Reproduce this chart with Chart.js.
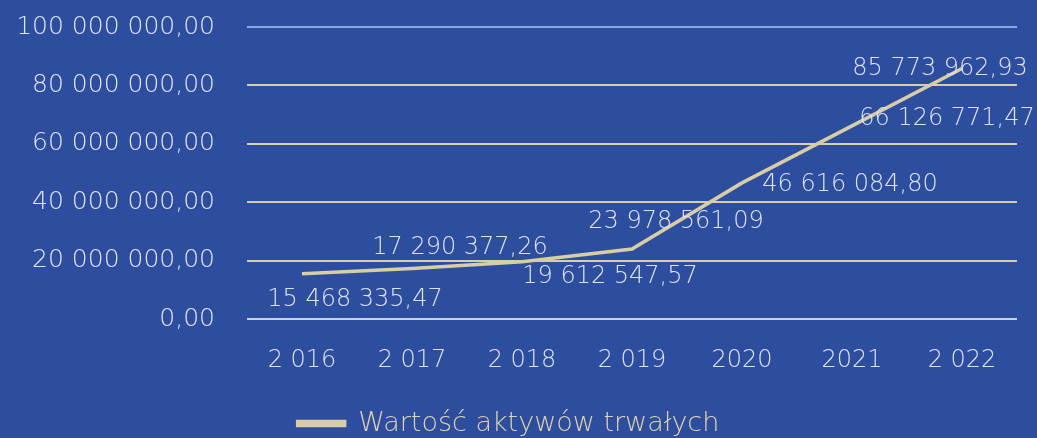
<!DOCTYPE html>
<html lang="pl">
<head>
<meta charset="UTF-8">
<title>Wartość aktywów trwałych</title>
<script src="https://cdn.jsdelivr.net/npm/chart.js"></script>
<style>
  html, body { margin: 0; padding: 0; background: #2d4e9f; }
  .container { width: 1037px; height: 438px; position: relative; }
</style>
</head>
<body>
<div class="container">
  <canvas id="aktywaChart"></canvas>
</div>
<script>
  const lata = ['2 016', '2 017', '2 018', '2 019', '2020', '2021', '2 022'];
  const wartosci = [15468335.47, 17290377.26, 19612547.57, 23978561.09, 46616084.80, 66126771.47, 85773962.93];
  const etykietaSerii = 'Wartość aktywów trwałych';
  const osY = { min: 0, max: 100000000, krok: 20000000 };

  function formatPL(v) {
    const [c, d] = v.toFixed(2).split('.');
    return c.replace(/\B(?=(\d{3})+(?!\d))/g, ' ') + ',' + d;
  }

  // etykiety wartości - przesunięte jak w oryginale
  const etykietyPlugin = {
    id: 'etykiety',
    afterDatasetsDraw(chart, args, opts) {
      const ctx = chart.ctx;
      const meta = chart.getDatasetMeta(0);
      ctx.save();
      ctx.font = opts.font;
      ctx.fillStyle = opts.color;
      ctx.textAlign = 'center';
      ctx.textBaseline = 'middle';
      meta.data.forEach((pt, i) => {
        const [dx, dy] = opts.offsets[i] || [0, 0];
        ctx.fillText(formatPL(wartosci[i]), pt.x + dx, pt.y + dy);
      });
      ctx.restore();
    }
  };

  const ctx = document.getElementById('aktywaChart').getContext('2d');
  new Chart(ctx, {
    type: 'line',
    data: {
      labels: lata,
      datasets: [{
        label: etykietaSerii,
        data: wartosci,
        borderColor: '#d9cda6',
        backgroundColor: '#dcc897',
        borderWidth: 3.5,
        pointRadius: 0,
        tension: 0
      }]
    },
    options: {
      responsive: true,
      maintainAspectRatio: false,
      animation: false,
      layout: { padding: { top: 27, right: 20, left: 0, bottom: -9 } },
      scales: {
        x: {
          offset: true,
          afterFit(scale) { scale.height = 89; },
          grid: { display: false, drawTicks: false },
          border: { display: false },
          ticks: { color: '#dfe3f4', font: { family: 'DejaVu Sans', size: 24, weight: 300 }, padding: 27 }
        },
        y: {
          min: osY.min,
          max: osY.max,
          afterFit(scale) {
            scale.width = 247;
            scale.paddingTop = 0;
            scale.paddingBottom = 0;
          },
          grid: {
            drawTicks: false,
            lineWidth: 2,
            color(c) {
              if (c.tick.value === osY.max) return '#8ea7dd';
              if (c.tick.value === osY.min) return '#c9d3ef';
              return '#d8cfa9';
            }
          },
          border: { display: false },
          ticks: {
            stepSize: osY.krok,
            color: '#e3e6f5',
            font: { family: 'DejaVu Sans', size: 25, weight: 300 },
            padding: 32,
            callback: v => formatPL(v)
          }
        }
      },
      plugins: {
        legend: {
          position: 'bottom',
          labels: {
            color: '#e2d3aa',
            font: { family: 'DejaVu Sans', size: 27, weight: 300 },
            boxWidth: 47,
            boxHeight: 4,
            padding: 2
          }
        },
        tooltip: { enabled: false },
        etykiety: {
          font: '300 24px "DejaVu Sans"',
          color: '#dfe3f4',
          offsets: [[53, 26], [48, -21], [88, 15], [44, -27], [108, 2], [95, -7], [-22, 0]]
        }
      }
    },
    plugins: [etykietyPlugin]
  });
</script>
</body>
</html>
